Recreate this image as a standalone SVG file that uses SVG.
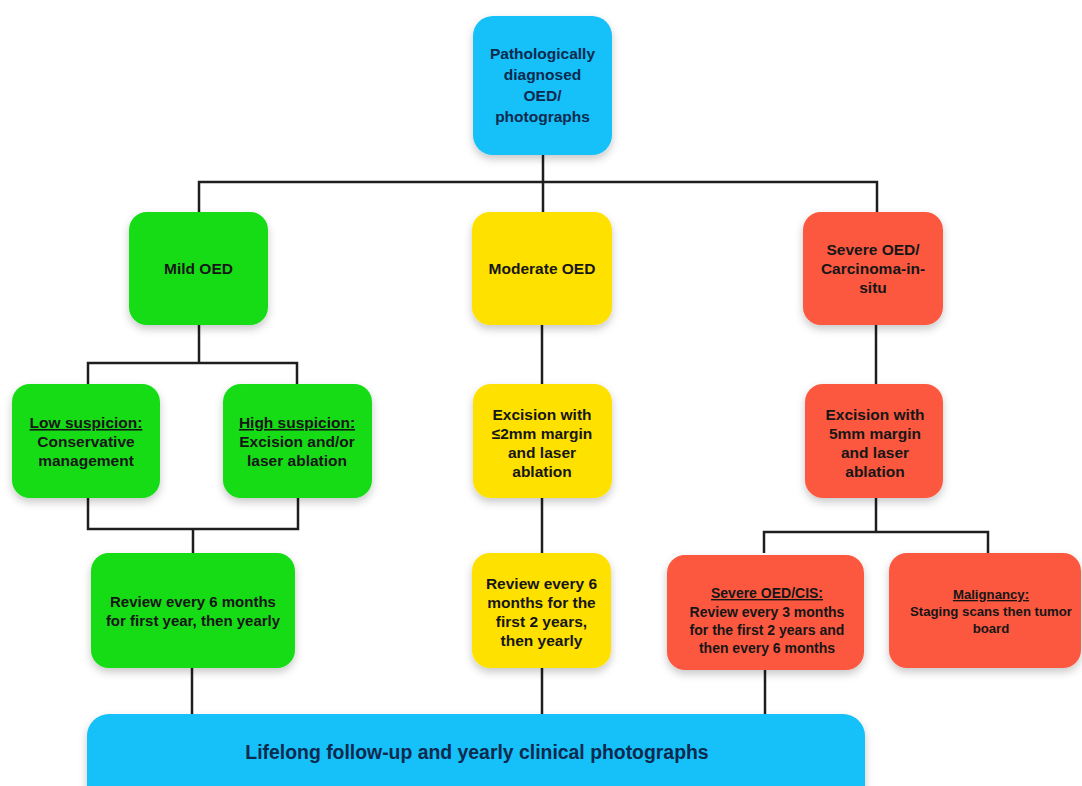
<svg xmlns="http://www.w3.org/2000/svg" width="1082" height="786" viewBox="0 0 1082 786">
<defs>
<filter id="sh" x="-20%" y="-20%" width="140%" height="150%">
<feDropShadow dx="0" dy="4" stdDeviation="4" flood-color="#000" flood-opacity="0.22"/>
</filter>
<style>
.box{filter:url(#sh);}
.blue{fill:#14C0F8;}
.green{fill:#14DC14;}
.yellow{fill:#FFE100;}
.red{fill:#FC583F;}
text{font-family:"Liberation Sans",Arial,Helvetica,sans-serif;font-weight:bold;font-size:15.5px;text-anchor:middle;fill:#161616;}
.tb{fill:#0B2A4E;}
.md{font-size:15px;}
.sm{font-size:14px;}
.xs{font-size:13.2px;}
.big{font-size:19.4px;}
.u{text-decoration:underline;}
.conn{stroke:#1e1e1e;stroke-width:2.5;fill:none;}
</style>
</defs>
<rect width="1082" height="786" fill="#ffffff"/>

<g id="connectors">
<path class="conn" d="M543,155 V182 M199,212 V182 H877 V212 M543,182 V212"/>
<path class="conn" d="M199,325 V363 M88,384 V363 H297 V384"/>
<path class="conn" d="M542,325 V384"/>
<path class="conn" d="M876,325 V384"/>
<path class="conn" d="M88,498 V529 H298 V498 M193,529 V553"/>
<path class="conn" d="M542,498 V553"/>
<path class="conn" d="M876,498 V532 M764,553 V532 H988 V553"/>
<path class="conn" d="M192,668 V714"/>
<path class="conn" d="M542,668 V714"/>
<path class="conn" d="M765,670 V714"/>
</g>

<g id="root">
<rect class="box blue" x="473" y="16" width="139" height="139" rx="20"/>
<text class="tb"><tspan x="542.5" y="59">Pathologically</tspan><tspan x="542.5" y="80">diagnosed</tspan><tspan x="542.5" y="101">OED/</tspan><tspan x="542.5" y="122">photographs</tspan></text>
</g>

<g id="mild">
<rect class="box green" x="129" y="212" width="139" height="113" rx="18"/>
<text x="198.5" y="274">Mild OED</text>
</g>

<g id="moderate">
<rect class="box yellow" x="472" y="212" width="140" height="113" rx="18"/>
<text x="542" y="274">Moderate OED</text>
</g>

<g id="severe">
<rect class="box red" x="803" y="212" width="140" height="113" rx="18"/>
<text><tspan x="873" y="255">Severe OED/</tspan><tspan x="873" y="274">Carcinoma-in-</tspan><tspan x="873" y="293">situ</tspan></text>
</g>

<g id="low">
<rect class="box green" x="12" y="384" width="148" height="114" rx="18"/>
<text><tspan x="86" y="428" class="u">Low suspicion:</tspan><tspan x="86" y="447">Conservative</tspan><tspan x="86" y="466">management</tspan></text>
</g>

<g id="high">
<rect class="box green" x="223" y="384" width="149" height="114" rx="18"/>
<text><tspan x="297" y="428" class="u">High suspicion:</tspan><tspan x="297" y="447">Excision and/or</tspan><tspan x="297" y="466">laser ablation</tspan></text>
</g>

<g id="excision2">
<rect class="box yellow" x="473" y="384" width="139" height="114" rx="18"/>
<text><tspan x="542" y="420">Excision with</tspan><tspan x="542" y="439">≤2mm margin</tspan><tspan x="542" y="458">and laser</tspan><tspan x="542" y="477">ablation</tspan></text>
</g>

<g id="excision5">
<rect class="box red" x="805" y="384" width="138" height="114" rx="18"/>
<text><tspan x="875" y="420">Excision with</tspan><tspan x="875" y="439">5mm margin</tspan><tspan x="875" y="458">and laser</tspan><tspan x="875" y="477">ablation</tspan></text>
</g>

<g id="review-mild">
<rect class="box green" x="91" y="553" width="204" height="115" rx="18"/>
<text class="md"><tspan x="193" y="607">Review every 6 months</tspan><tspan x="193" y="626">for first year, then yearly</tspan></text>
</g>

<g id="review-moderate">
<rect class="box yellow" x="472" y="553" width="139" height="115" rx="18"/>
<text><tspan x="541.5" y="589">Review every 6</tspan><tspan x="541.5" y="608">months for the</tspan><tspan x="541.5" y="627">first 2 years,</tspan><tspan x="541.5" y="646">then yearly</tspan></text>
</g>

<g id="review-severe">
<rect class="box red" x="667" y="555" width="197" height="115" rx="18"/>
<text class="sm"><tspan x="767" y="598" class="u">Severe OED/CIS:</tspan><tspan x="767" y="617">Review every 3 months</tspan><tspan x="767" y="635">for the first 2 years and</tspan><tspan x="767" y="653">then every 6 months</tspan></text>
</g>

<g id="malignancy">
<rect class="box red" x="889" y="553" width="192" height="115" rx="18"/>
<text class="xs"><tspan x="991" y="599" class="u">Malignancy:</tspan><tspan x="991" y="616">Staging scans then tumor</tspan><tspan x="991" y="633">board</tspan></text>
</g>

<g id="lifelong">
<rect class="box blue" x="87" y="714" width="778" height="100" rx="22"/>
<text class="tb big" x="477" y="759">Lifelong follow-up and yearly clinical photographs</text>
</g>
</svg>
